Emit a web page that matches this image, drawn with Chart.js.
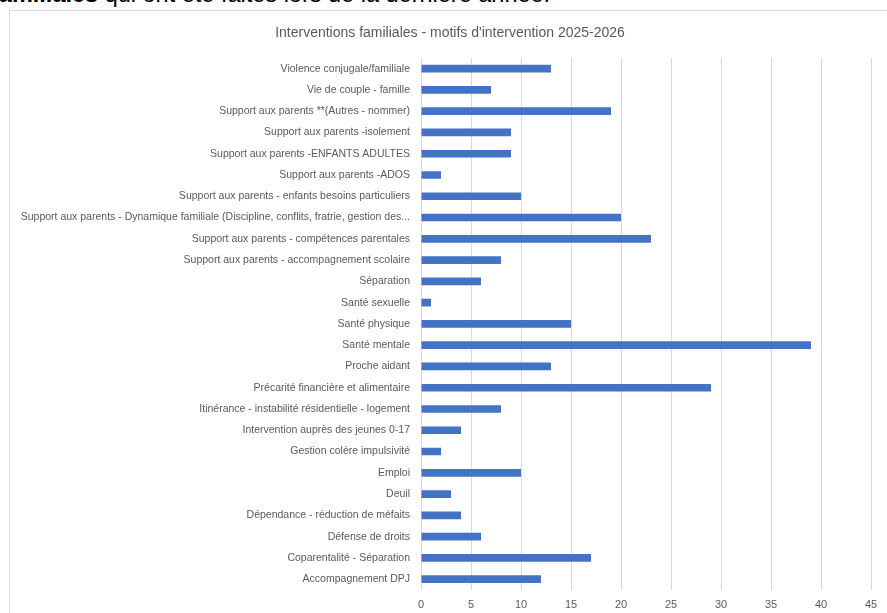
<!DOCTYPE html>
<html lang="fr">
<head>
<meta charset="utf-8">
<script src="https://cdn.jsdelivr.net/npm/chart.js@4"></script>
<style>
  html, body { margin: 0; padding: 0; background: #fff; overflow: hidden; width: 887px; height: 613px; }
  #entete {
    position: absolute; left: -9px; top: -18px; white-space: nowrap;
    font-family: "Liberation Sans", Arial, sans-serif; font-size: 23.5px; line-height: 24px; color: #000;
  }
  #cadre {
    position: absolute; left: 9px; top: 10px; width: 900px; height: 620px;
    border-left: 1px solid #d9d9d9; border-top: 1px solid #d9d9d9; background: #fff;
  }
  #titre {
    position: absolute; left: 0; width: 880px; top: 13px; text-align: center;
    font-family: "Liberation Sans", Arial, sans-serif; font-size: 14px; line-height: 17px; color: #595959;
  }
</style>
</head>
<body>
<div id="entete"><b>familiales</b> qui ont été faites lors de la dernière année.</div>
<div id="cadre"><canvas id="graphique"></canvas><div id="titre"></div></div>
<script>
// motifs (de haut en bas)
const motifs = [
  "Violence conjugale/familiale",
  "Vie de couple - famille",
  "Support aux parents **(Autres - nommer)",
  "Support aux parents -isolement",
  "Support aux parents -ENFANTS ADULTES",
  "Support aux parents -ADOS",
  "Support aux parents - enfants besoins particuliers",
  "Support aux parents - Dynamique familiale (Discipline, conflits, fratrie, gestion des...",
  "Support aux parents - compétences parentales",
  "Support aux parents - accompagnement scolaire",
  "Séparation",
  "Santé sexuelle",
  "Santé physique",
  "Santé mentale",
  "Proche aidant",
  "Précarité financière et alimentaire",
  "Itinérance - instabilité résidentielle - logement",
  "Intervention auprès des jeunes 0-17",
  "Gestion colère impulsivité",
  "Emploi",
  "Deuil",
  "Dépendance - réduction de méfaits",
  "Défense de droits",
  "Coparentalité - Séparation",
  "Accompagnement DPJ"
];
const nbInterventions = [13, 7, 19, 9, 9, 2, 10, 20, 23, 8, 6, 1, 15, 39, 13, 29, 8, 4, 2, 10, 3, 4, 6, 17, 12];
const titre = "Interventions familiales - motifs d'intervention 2025-2026";
const axeMin = 0, axeMax = 45, pas = 5;

const gris = "#595959";
document.getElementById("titre").textContent = titre;
const canvas = document.getElementById("graphique");
canvas.width = 899; canvas.height = 619;

new Chart(canvas, {
  type: "bar",
  data: {
    labels: motifs,
    datasets: [{
      data: nbInterventions,
      backgroundColor: "#4472C4",
      borderWidth: 0,
      categoryPercentage: 1,
      barPercentage: 0.36
    }]
  },
  options: {
    indexAxis: "y",
    responsive: false,
    animation: false,
    devicePixelRatio: 1,
    layout: { padding: { top: 47, right: 38, bottom: 9, left: 0 } },
    plugins: {
      legend: { display: false },
      tooltip: { enabled: false },
      title: { display: false }
    },
    scales: {
      x: {
        min: axeMin, max: axeMax,
        ticks: { stepSize: pas, color: gris, font: { family: "Liberation Sans", size: 11 }, padding: 9 },
        grid: { color: "#d9d9d9", drawTicks: false },
        border: { display: false }
      },
      y: {
        afterFit: s => { s.width = 411; },
        ticks: { color: gris, font: { family: "Liberation Sans", size: 10.5 }, padding: 11, autoSkip: false },
        grid: { display: false, drawTicks: false },
        border: { display: false }
      }
    }
  }
});
</script>
</body>
</html>
